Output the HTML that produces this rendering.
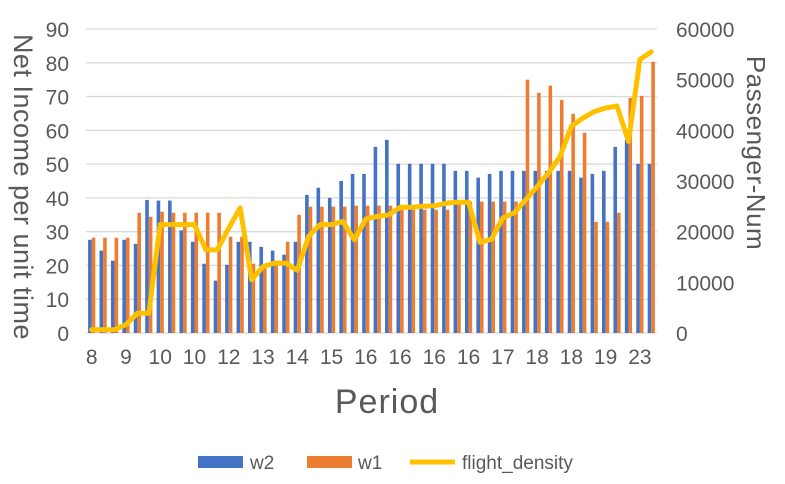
<!DOCTYPE html>
<html><head><meta charset="utf-8"><style>
body{margin:0;background:#fff;width:785px;height:484px;overflow:hidden;font-family:"Liberation Sans",sans-serif}
svg{display:block}
</style></head><body>
<svg id="chart" width="785" height="484" xmlns="http://www.w3.org/2000/svg">
<g id="grid"></g>
<g id="bars"></g>
<g id="linesG"></g>
<g id="ticks" fill="#595959" font-size="21"></g>
<text transform="translate(14,187) rotate(90)" text-anchor="middle" font-size="27" fill="#595959" letter-spacing="0.5">Net Income per unit time</text>
<text transform="translate(747,153) rotate(90)" text-anchor="middle" font-size="26" fill="#595959" letter-spacing="0.5">Passenger-Num</text>
<text x="387" y="413" text-anchor="middle" font-size="34" fill="#595959" letter-spacing="1">Period</text>
<g font-size="19" fill="#595959">
<rect x="198" y="456" width="45" height="12" fill="#4472C4"/>
<text x="250" y="469">w2</text>
<rect x="307" y="456" width="45" height="12" fill="#ED7D31"/>
<text x="358" y="469">w1</text>
<line x1="410" y1="462" x2="455" y2="462" stroke="#FFC000" stroke-width="5"/>
<text x="462" y="469">flight_density</text>
</g>
</svg>
<script>
const categories=["8","","","9","","","10","","","10","","","12","","","13","","","14","","","15","","","16","","","16","","","16","","","16","","","17","","","18","","","18","","","19","","","23",""];
const w2=[27.6,24.4,21.4,27.6,26.4,39.4,39.2,39.2,30.4,27,20.5,15.5,20.2,27,27,25.5,24.4,23.2,27,40.9,43,40,45,47.1,47.1,55.1,57.2,50.1,50.1,50.1,50.1,50.1,48,48,46,47.1,48,48,48,48,48,48,48,46,47.1,48,55.1,57.2,50.1,50.1];
const w1=[28.2,28.2,28.2,28.2,35.6,34.4,35.9,35.6,35.6,35.6,35.6,35.6,28.5,28.5,20.5,20.5,20.5,27,35,37.4,37.4,37.4,37.4,37.7,37.7,37.7,37.7,36.5,36.5,36.5,36.5,36.5,38.8,38.9,38.9,38.9,38.9,38.9,75,71.1,73.2,69,64.9,59.3,32.9,32.9,35.6,69.6,70.2,80.3];
const flightDensity=[660,660,660,1650,3900,3900,21400,21400,21400,21400,16400,16400,20700,24700,10500,13100,13800,13800,12400,19100,21400,21400,22000,18400,22500,23000,23300,24800,24800,25000,25100,25600,25800,25800,17900,18500,22700,23700,26300,28900,31600,34800,40800,42400,43700,44400,44800,37800,54000,55500];
const leftTicks=[0,10,20,30,40,50,60,70,80,90];
const rightTicks=[0,10000,20000,30000,40000,50000,60000];
const NS="http://www.w3.org/2000/svg";
const X0=86,X1=657,Y0=333,Y1=29;
const bw=(X1-X0)/categories.length;
const yL=v=>Y0-(v/90)*(Y0-Y1);
const yR=v=>Y0-(v/60000)*(Y0-Y1);
const xC=i=>X0+bw*(i+0.5);
function mk(tag,attrs,parent){const e=document.createElementNS(NS,tag);for(const k in attrs)e.setAttribute(k,attrs[k]);parent.appendChild(e);return e;}
const grid=document.getElementById('grid'),bars=document.getElementById('bars'),ticks=document.getElementById('ticks'),lg=document.getElementById('linesG');
leftTicks.forEach(t=>{
 const l=mk('line',{x1:X0,x2:X1,y1:yL(t),y2:yL(t),stroke:'#d9d9d9','stroke-width':1.3},grid);
 
 
 const tx=mk('text',{x:69,y:yL(t)+8,'text-anchor':'end'},ticks);tx.textContent=t;
 
 
});
rightTicks.forEach(t=>{
 const tx=mk('text',{x:676,y:yR(t)+8,'text-anchor':'start'},ticks);tx.textContent=t;
 
 
});
categories.forEach((c,i)=>{
 const cx=xC(i),w=3.6;
 const b=mk('rect',{x:cx-w,y:yL(w2[i]),width:w,height:Y0-yL(w2[i]),fill:'#4472C4'},bars);
 
 
 const o=mk('rect',{x:cx,y:yL(w1[i]),width:w,height:Y0-yL(w1[i]),fill:'#ED7D31'},bars);
 
 
 if(c!==''){const tx=mk('text',{x:cx,y:364,'text-anchor':'middle'},ticks);tx.textContent=c;
 
 }
});
const pts=flightDensity.map((v,i)=>xC(i).toFixed(1)+','+yR(v).toFixed(1)).join(' ');
const pl=mk('polyline',{points:pts,fill:'none',stroke:'#FFC000','stroke-width':5,'stroke-linejoin':'round','stroke-linecap':'round'},lg);


</script>
</body></html>
